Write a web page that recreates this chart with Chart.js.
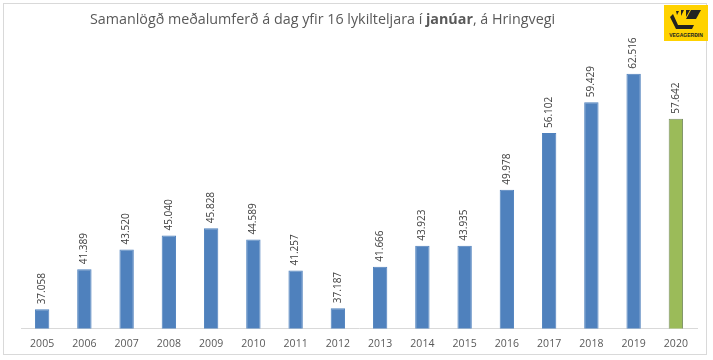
<!DOCTYPE html>
<html>
<head>
<meta charset="utf-8">
<script src="https://cdn.jsdelivr.net/npm/chart.js@4/dist/chart.umd.min.js"></script>
<style>
  body { margin: 0; background: #fff; }
  #wrap { position: relative; width: 713px; height: 360px; }
  #frame { position: absolute; left: 3px; top: 3px; width: 704px; height: 352px; border: 1px solid #d9d9d9; box-sizing: border-box; }
  #title { position: absolute; left: 0; top: 9px; width: 645px; text-align: center; font-family: "Open Sans", sans-serif; font-size: 14.3px; color: #595959; }
  #logo { position: absolute; left: 664px; top: 5px; width: 44px; height: 36px; background: #ffd200; }
  #logo span { position: absolute; left: 0; bottom: 3px; width: 44px; text-align: center; font: bold 5px "Liberation Sans", sans-serif; color: #222; }
  canvas { position: absolute; left: 0; top: 0; }
</style>
</head>
<body>
<div id="wrap">
  <div id="frame"></div>
  <canvas id="c" width="713" height="360"></canvas>
  <div id="title">Samanlögð meðalumferð á dag yfir 16 lykilteljara í <b>janúar</b>, á Hringvegi</div>
  <div id="logo">
    <svg width="44" height="28" viewBox="0 0 44 28">
      <path d="M12 6 L15 6 L13 10 Z M17 5 L20 5 L17 11 Z M22 5 L26 5 L22 12 Z" fill="#222"/>
      <path d="M27 5 L37 5 L32 14 L22 14 Z" fill="#222"/>
      <path d="M9 9 L14 20 L30 20 L28 24 L12 24 L6 12 Z" fill="#222"/>
    </svg>
    <span>VEGAGERÐIN</span>
  </div>
</div>
<script>
const years = ["2005","2006","2007","2008","2009","2010","2011","2012","2013","2014","2015","2016","2017","2018","2019","2020"];
const traffic = [37058, 41389, 43520, 45040, 45828, 44589, 41257, 37187, 41666, 43923, 43935, 49978, 56102, 59429, 62516, 57642];
const barColors = years.map((y, i) => i === years.length - 1 ? "#9bbb59" : "#4f81bd");
const borderColors = years.map((y, i) => i === years.length - 1 ? "#7a8f64" : "#4f81bd");

function fmt(v) {
    return String(v).replace(/\B(?=(\d{3})+(?!\d))/g, ".");
}

const valueLabels = {
    id: "valueLabels",
    afterDatasetsDraw(chart) {
        const ctx = chart.ctx;
        const meta = chart.getDatasetMeta(0);
        ctx.save();
        ctx.font = "10px 'Open Sans', sans-serif";
        ctx.fillStyle = "#404040";
        ctx.textAlign = "left";
        ctx.textBaseline = "middle";
        meta.data.forEach((bar, i) => {
            ctx.save();
            ctx.translate(bar.x, bar.y - 5);
            ctx.rotate(-Math.PI / 2);
            ctx.fillText(fmt(traffic[i]), 0, 0);
            ctx.restore();
        });
        ctx.restore();
    }
};

new Chart(document.getElementById("c"), {
    type: "bar",
    data: {
        labels: years,
        datasets: [{
            data: traffic,
            backgroundColor: barColors,
            borderColor: borderColors,
            borderWidth: 1,
            categoryPercentage: 1,
            barPercentage: 0.34
        }]
    },
    options: {
        responsive: false,
        animation: false,
        layout: { padding: { left: 21, right: 16, top: 40, bottom: 9 } },
        plugins: { legend: { display: false }, tooltip: { enabled: false } },
        scales: {
            x: {
                grid: { display: false },
                border: { color: "#d9d9d9" },
                ticks: { color: "#595959", font: { size: 10.5, family: "'Open Sans', sans-serif" }, padding: 1 }
            },
            y: { display: false, min: 35000, max: 66150 }
        }
    },
    plugins: [valueLabels]
});
</script>
</body>
</html>
